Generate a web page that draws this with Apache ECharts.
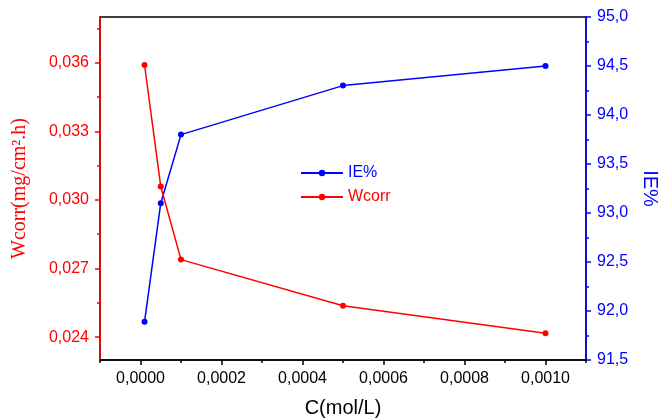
<!DOCTYPE html>
<html>
<head>
<meta charset="utf-8">
<script src="https://cdn.jsdelivr.net/npm/echarts@6/dist/echarts.min.js"></script>
<style>html,body{margin:0;padding:0;background:#fff}#c{width:660px;height:419px}</style>
</head>
<body>
<div id="c"></div>
<script>
const concentrations = [0.00001, 0.00005, 0.0001, 0.0005, 0.001];
const wcorr = [0.03590, 0.03059, 0.02739, 0.02537, 0.02417];
const ie = [91.89, 93.10, 93.80, 94.30, 94.50];
const xTicks = [0, 0.0002, 0.0004, 0.0006, 0.0008, 0.001];
const xMinorTicks = [-0.0001, 0.0001, 0.0003, 0.0005, 0.0007, 0.0009, 0.0011];
const wTicks = [0.024, 0.027, 0.030, 0.033, 0.036];
const wMinorTicks = [0.0255, 0.0285, 0.0315, 0.0345, 0.0375];

const FONT = '"Liberation Sans", Arial, sans-serif';
const chart = echarts.init(document.getElementById('c'));
const pair = (xs, ys) => xs.map((x, i) => [x, ys[i]]);

chart.setOption({
  animation: false,
  backgroundColor: '#fff',
  grid: { left: 100, right: 74, top: 17, bottom: 59, containLabel: false, outerBoundsMode: 'none',
    show: true, borderColor: '#000', borderWidth: 1.5, backgroundColor: 'transparent' },
  legend: {
    orient: 'vertical', left: 295, top: 160, itemWidth: 42, itemHeight: 8, itemGap: 8,
    textStyle: { fontFamily: FONT, fontSize: 16 },
    data: [
      { name: 'IE%', textStyle: { color: '#0000ff' } },
      { name: 'Wcorr', textStyle: { color: '#ff0000' } }
    ]
  },
  xAxis: [
    {
      type: 'value', position: 'bottom', min: -0.0001, max: 0.0011,
      name: 'C(mol/L)', nameLocation: 'middle', nameGap: 38,
      nameTextStyle: { fontFamily: FONT, fontSize: 20, color: '#000' },
      axisLine: { show: true, onZero: false, lineStyle: { color: '#000', width: 1.5 } },
      axisTick: { show: true, length: 5, customValues: xTicks, lineStyle: { color: '#000', width: 1.5 } },
      axisLabel: { customValues: xTicks, color: '#000', fontFamily: FONT, fontSize: 16, margin: 11,
        formatter: v => v.toFixed(4).replace('.', ',') },
      splitLine: { show: false }
    },
    {
      type: 'value', position: 'bottom', min: -0.0001, max: 0.0011,
      axisLine: { show: false, onZero: false },
      axisTick: { show: true, length: 3, customValues: xMinorTicks, lineStyle: { color: '#000', width: 1.5 } },
      axisLabel: { show: false }, splitLine: { show: false }
    }
  ],
  yAxis: [
    {
      type: 'value', position: 'left', min: 0.023, max: 0.038,
      name: 'Wcorr(mg/cm\u00B2.h)', nameLocation: 'middle', nameGap: 70, nameRotate: 90,
      nameTextStyle: { fontFamily: '"Liberation Serif", "Times New Roman", serif', fontSize: 20, color: '#ff0000' },
      axisLine: { show: true, onZero: false, lineStyle: { color: '#ff0000', width: 1.5 } },
      axisTick: { show: true, length: 5, customValues: wTicks, lineStyle: { color: '#ff0000', width: 1.5 } },
      axisLabel: { customValues: wTicks, color: '#ff0000', fontFamily: FONT, fontSize: 16, margin: 11,
        formatter: v => v.toFixed(3).replace('.', ',') },
      splitLine: { show: false }
    },
    {
      type: 'value', position: 'right', min: 91.5, max: 95, interval: 0.5,
      name: 'IE%', nameLocation: 'middle', nameGap: 54, nameRotate: -90,
      nameTextStyle: { fontFamily: FONT, fontSize: 20, color: '#0000ff' },
      axisLine: { show: true, onZero: false, lineStyle: { color: '#0000ff', width: 1.5 } },
      axisTick: { show: true, length: 5, lineStyle: { color: '#0000ff', width: 1.5 } },
      minorTick: { show: true, splitNumber: 2, length: 3, lineStyle: { color: '#0000ff', width: 1.5 } },
      axisLabel: { color: '#0000ff', fontFamily: FONT, fontSize: 16, margin: 11,
        formatter: v => v.toFixed(1).replace('.', ',') },
      splitLine: { show: false }
    },
    {
      type: 'value', position: 'left', min: 0.023, max: 0.038,
      axisLine: { show: false, onZero: false },
      axisTick: { show: true, length: 3, customValues: wMinorTicks, lineStyle: { color: '#ff0000', width: 1.5 } },
      axisLabel: { show: false }, splitLine: { show: false }
    }
  ],
  series: [
    {
      name: 'IE%', type: 'line', yAxisIndex: 1, data: pair(concentrations, ie),
      symbol: 'circle', symbolSize: 6, color: '#0000ff',
      lineStyle: { width: 1.5, color: '#0000ff' }, itemStyle: { color: '#0000ff' }
    },
    {
      name: 'Wcorr', type: 'line', yAxisIndex: 0, data: pair(concentrations, wcorr),
      symbol: 'circle', symbolSize: 6, color: '#ff0000',
      lineStyle: { width: 1.5, color: '#ff0000' }, itemStyle: { color: '#ff0000' }
    }
  ]
});
</script>
</body>
</html>
